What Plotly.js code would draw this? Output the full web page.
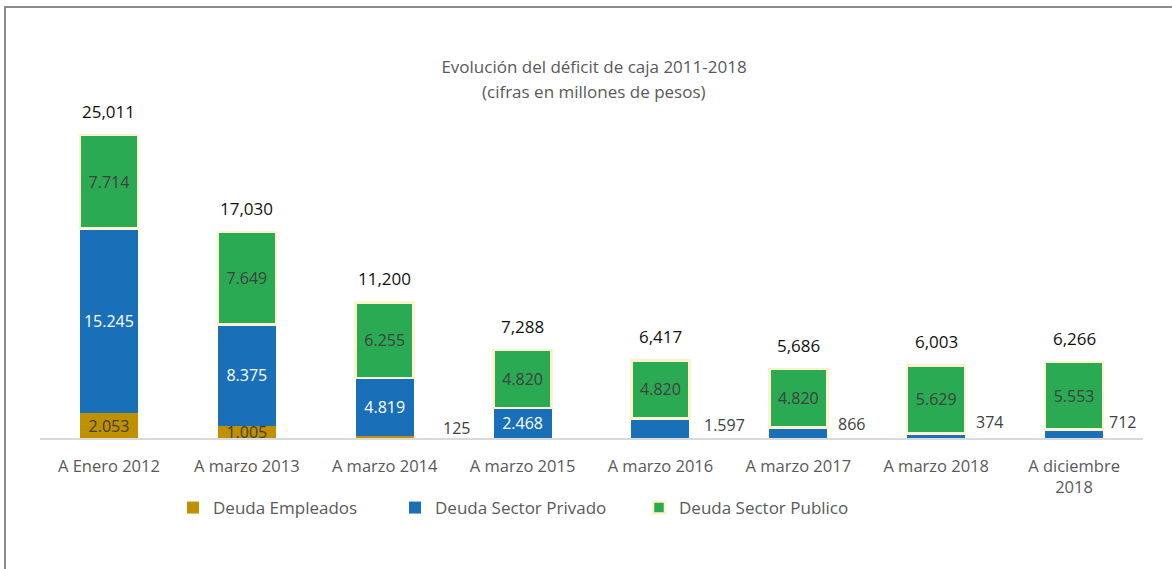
<!DOCTYPE html>
<html>
<head>
<meta charset="utf-8">
<script src="https://cdn.plot.ly/plotly-3.0.1.min.js"></script>
<style>
  html, body { margin: 0; padding: 0; background: #fff; }
  #wrap { position: relative; width: 1172px; height: 569px; overflow: hidden; }
  #chart { position: absolute; left: 0; top: 0; width: 1172px; height: 569px; }
  #frame { position: absolute; left: 4px; top: 6px; width: 1300px; height: 700px;
           border-left: 2px solid #8c8c8c; border-top: 2px solid #8c8c8c; pointer-events: none; }
</style>
</head>
<body>
<div id="wrap">
  <div id="chart"></div>
  <div id="frame"></div>
</div>
<script>
// ---- data ----
const categories = ['A Enero 2012', 'A marzo 2013', 'A marzo 2014', 'A marzo 2015',
                    'A marzo 2016', 'A marzo 2017', 'A marzo 2018', 'A diciembre<br>2018'];
const empleados = [2053, 1005, 125, 0, 0, 0, 0, 0];
const privado   = [15245, 8375, 4819, 2468, 1597, 866, 374, 712];
const publico   = [7714, 7649, 6255, 4820, 4820, 4820, 5629, 5553];
const totals    = [25011, 17030, 11200, 7288, 6417, 5686, 6003, 6266];
const seriesNames = ['Deuda Empleados', 'Deuda Sector Privado', 'Deuda Sector Publico'];

// ---- styles ----
const FONT = 'Open Sans, Noto Sans, sans-serif';
const colGold = '#bf9000', colBlue = '#1a70b8', colGreen = '#2aaa52', colEdge = '#fff2cc';
const gray = '#595959', dark = '#404040';

function fmtDot(v) { return String(v).replace(/\B(?=(\d{3})+(?!\d))/g, '.'); }
function fmtComma(v) { return String(v).replace(/\B(?=(\d{3})+(?!\d))/g, ','); }

// labels shown inside only where the segment is tall enough; else beside the bar
const INSIDE_MIN = 1000;
const empText = empleados.map(v => v >= INSIDE_MIN ? fmtDot(v) : '');
const priText = privado.map(v => v >= INSIDE_MIN * 2 ? fmtDot(v) : '');
const pubText = publico.map(v => fmtDot(v));

const W = 0.42;
const common = { type: 'bar', x: categories, width: W, textposition: 'inside',
  insidetextanchor: 'middle', constraintext: 'none', textangle: 0, hoverinfo: 'skip' };

const traces = [
  Object.assign({}, common, { name: seriesNames[0], y: empleados, text: empText, legend: 'legend',
    marker: { color: colGold, line: { width: 0 } },
    insidetextfont: { family: FONT, size: 16, color: dark } }),
  Object.assign({}, common, { name: seriesNames[1], y: privado, text: priText, legend: 'legend2',
    marker: { color: colBlue, line: { width: 0 } },
    insidetextfont: { family: FONT, size: 16, color: '#ffffff' } }),
  Object.assign({}, common, { name: seriesNames[2], y: publico, text: pubText, legend: 'legend3',
    marker: { color: colGreen, line: { width: 2.5, color: colEdge } },
    insidetextfont: { family: FONT, size: 16, color: dark } })
];

const annotations = [];
// totals above bars
categories.forEach((c, i) => {
  annotations.push({ x: c, y: totals[i], xref: 'x', yref: 'y', text: fmtComma(totals[i]),
    showarrow: false, yanchor: 'bottom', yshift: 10,
    font: { family: FONT, size: 17, color: '#111111' } });
});
// side labels for small segments
const sideShift = [0, 0, 56, 0, 42, 38, 38, 33];
const sideYShift = [0, 0, -3, 0, 0, 1, 3, 3];
categories.forEach((c, i) => {
  let v = null;
  if (privado[i] < INSIDE_MIN * 2) v = privado[i];
  else if (empleados[i] > 0 && empleados[i] < INSIDE_MIN) v = empleados[i];
  if (v === null) return;
  annotations.push({ x: c, y: 0, xref: 'x', yref: 'y', text: fmtDot(v), showarrow: false,
    xanchor: 'left', yanchor: 'bottom', xshift: sideShift[i], yshift: sideYShift[i],
    font: { family: FONT, size: 16, color: dark } });
});
// second title line
annotations.push({ xref: 'paper', yref: 'paper', x: 0.5, y: 1 + (99 - 91) / 339,
  xshift: 2, text: '(cifras en millones de pesos)', showarrow: false, yanchor: 'middle',
  font: { family: FONT, size: 17, color: gray } });

function legendAt(px) {
  return { orientation: 'h', x: px / 1172, xref: 'container', xanchor: 'left',
    y: 1 - 508 / 569, yref: 'container', yanchor: 'middle',
    font: { family: FONT, size: 17, color: gray }, bgcolor: 'rgba(0,0,0,0)' };
}

const layout = {
  width: 1172, height: 569,
  margin: { l: 40, r: 29, t: 99, b: 131, autoexpand: false },
  paper_bgcolor: '#ffffff', plot_bgcolor: '#ffffff',
  barmode: 'stack',
  showlegend: true,
  title: { text: 'Evolución del déficit de caja 2011-2018', x: 594 / 1172, xanchor: 'center',
    y: 1 - 67 / 569, yanchor: 'middle', yref: 'container',
    font: { family: FONT, size: 17, color: gray } },
  xaxis: { type: 'category', showline: true, linecolor: '#d9d9d9', linewidth: 2,
    ticks: '', showgrid: false, zeroline: false, ticklabelstandoff: 12,
    tickfont: { family: FONT, size: 16.5, color: gray }, fixedrange: true },
  yaxis: { visible: false, range: [0, 28000], fixedrange: true },
  legend: legendAt(173),
  legend2: legendAt(395),
  legend3: legendAt(639),
  annotations: annotations
};

Plotly.newPlot('chart', traces, layout, { displayModeBar: false, staticPlot: true });
</script>
</body>
</html>
